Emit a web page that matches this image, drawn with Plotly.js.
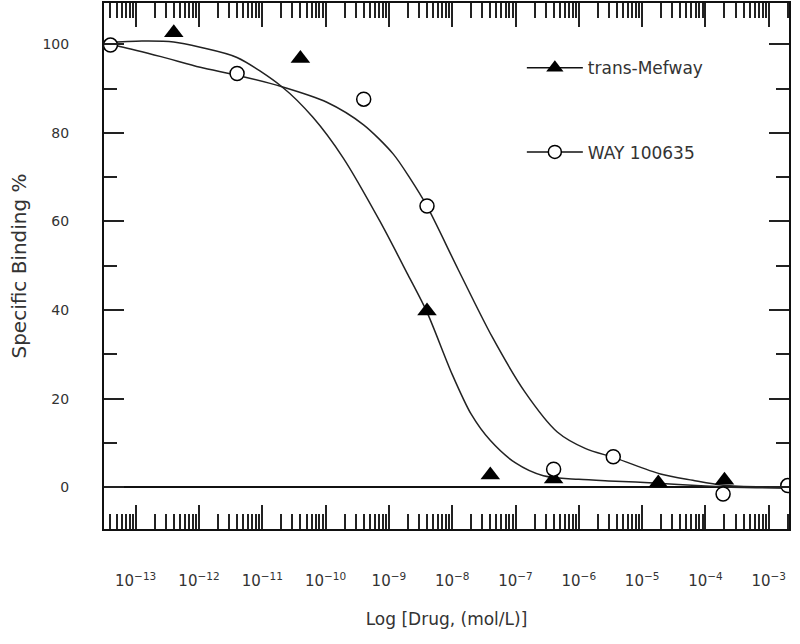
<!DOCTYPE html>
<html>
<head>
<meta charset="utf-8">
<script src="https://cdn.plot.ly/plotly-3.0.1.min.js"></script>
<style>
  body { margin: 0; background: #fff; }
  #plotArea { width: 800px; height: 644px; }
</style>
</head>
<body>
<div id="plotArea"></div>
<script>
// measured points (concentration in mol/L, specific binding %)
var mefwayX = [4e-13, 4e-11, 4e-9, 4e-8, 4e-7, 1.8e-5, 2e-4];
var mefwayY = [102.6, 96.8, 39.8, 2.8, 1.9, 1.0, 1.6];

var wayX = [4e-14, 4e-12, 4e-10, 4e-9, 4e-7, 3.5e-6, 1.9e-4, 2e-3];
var wayY = [99.8, 93.4, 87.6, 63.5, 4.1, 6.9, -1.5, 0.4];

// fitted curves (log10 conc, %)
var mefwayFitLog = [-13.5, -12.9, -12.4, -11.98, -11.4, -10.69, -10.2, -9.72, -9.14, -8.7, -8.4, -8.0, -7.7, -7.4, -7.0, -6.56, -6.0, -5.42, -4.82, -4.0, -3.7, -2.68];
var mefwayFitY = [100.3, 100.7, 100.5, 99.3, 97.0, 90.4, 83.5, 74.3, 60, 48, 39.6, 25.5, 16.5, 10.6, 5.5, 2.6, 1.8, 1.4, 1.0, 0.3, 0.1, -0.2];

var wayFitLog = [-13.5, -13.25, -12.6, -11.98, -11.4, -10.69, -9.98, -9.4, -8.93, -8.66, -8.4, -7.9, -7.37, -6.85, -6.34, -5.9, -5.42, -4.71, -4.2, -3.72, -2.68];
var wayFitY = [100.2, 99.5, 97.2, 94.8, 93.0, 90.4, 86.9, 81.8, 75.2, 69.6, 63.5, 49, 34.0, 21.5, 12.5, 8.8, 6.6, 3.0, 1.6, 0.5, 0];

var toConc = function(v) { return Math.pow(10, v); };

var lineCol = "#222";
var fontFam = "DejaVu Sans, Verdana, sans-serif";

var traceMefFit = {
    x: mefwayFitLog.map(toConc), y: mefwayFitY,
    mode: "lines", line: {color: lineCol, width: 1.5, shape: "spline", smoothing: 0.8},
    showlegend: false, hoverinfo: "skip"
};
var traceWayFit = {
    x: wayFitLog.map(toConc), y: wayFitY,
    mode: "lines", line: {color: lineCol, width: 1.5, shape: "spline", smoothing: 0.8},
    showlegend: false, hoverinfo: "skip"
};
var traceMef = {
    x: mefwayX, y: mefwayY, mode: "markers",
    marker: {symbol: "triangle-up", size: 17, color: "#000"},
    showlegend: false
};
var traceWay = {
    x: wayX, y: wayY, mode: "markers",
    marker: {symbol: "circle", size: 14, color: "#fff", line: {color: "#000", width: 1.5}},
    showlegend: false
};

// legend-only entries (line through the symbol, as in the original)
var legMef = {
    x: [null], y: [null], name: "trans-Mefway", mode: "markers+lines",
    line: {color: "#111", width: 1.5},
    marker: {symbol: "triangle-up", size: 15, color: "#000"},
    legend: "legend"
};
var legWay = {
    x: [null], y: [null], name: "WAY 100635", mode: "markers+lines",
    line: {color: "#111", width: 1.5},
    marker: {symbol: "circle", size: 13, color: "#fff", line: {color: "#000", width: 1.5}},
    legend: "legend2"
};

var layout = {
    width: 800, height: 644,
    margin: {l: 104, r: 11, t: 3, b: 115},
    paper_bgcolor: "#fff", plot_bgcolor: "#fff",
    font: {family: fontFam, color: "#333", size: 13},
    xaxis: {
        type: "log", range: [-13.5, -2.68], dtick: 1, exponentformat: "power",
        ticks: "inside", ticklen: 24, tickwidth: 1.5, tickcolor: "#222",
        minor: {ticks: "inside", ticklen: 15, tickwidth: 1.5, tickcolor: "#222"},
        showline: true, linecolor: "#111", linewidth: 2, mirror: "allticks",
        showgrid: false, zeroline: false,
        ticklabelstandoff: 38,
        tickfont: {size: 12, color: "#333"},
        title: {text: "Log [Drug, (mol/L)]", font: {size: 17, color: "#333"}, standoff: 24}
    },
    yaxis: {
        range: [-9.4, 109.3], dtick: 20,
        ticks: "inside", ticklen: 20, tickwidth: 1.5, tickcolor: "#222",
        minor: {ticks: "inside", ticklen: 13, tickwidth: 1.5, tickcolor: "#222", dtick: 10},
        showline: true, linecolor: "#111", linewidth: 2, mirror: "allticks",
        showgrid: false, zeroline: true, zerolinecolor: "#111", zerolinewidth: 1.5,
        ticklabelstandoff: 30,
        tickfont: {size: 14, color: "#333"},
        title: {text: "Specific Binding %", font: {size: 20, color: "#333"}, standoff: 10}
    },
    legend: {x: 0.61, y: 0.876, xanchor: "left", yanchor: "middle", bgcolor: "rgba(0,0,0,0)",
             itemwidth: 56, font: {size: 17, color: "#333", family: fontFam}},
    legend2: {x: 0.61, y: 0.716, xanchor: "left", yanchor: "middle", bgcolor: "rgba(0,0,0,0)",
              itemwidth: 56, font: {size: 17, color: "#333", family: fontFam}}
};

Plotly.newPlot("plotArea", [traceMefFit, traceWayFit, traceMef, traceWay, legMef, legWay], layout, {displayModeBar: false});
</script>
</body>
</html>
